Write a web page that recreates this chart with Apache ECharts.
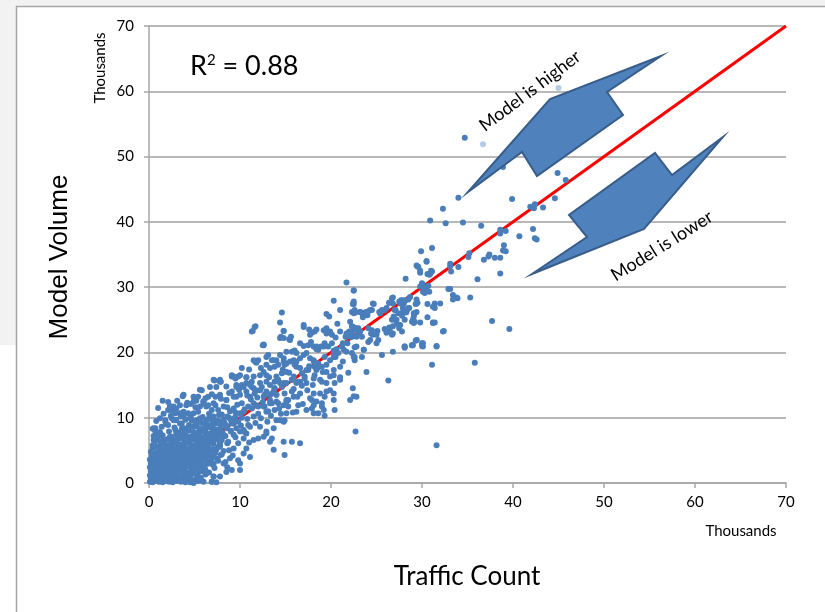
<!DOCTYPE html>
<html>
<head>
<meta charset="utf-8">
<script src="https://cdn.jsdelivr.net/npm/echarts@6/dist/echarts.min.js"></script>
<style>
html,body{margin:0;padding:0;background:#fff;}
#chart{width:825px;height:612px;}
</style>
</head>
<body>
<div id="chart"></div>
<script>
// Axis ticks (thousands)
var xTicks = [0, 10, 20, 30, 40, 50, 60, 70];
var yTicks = [0, 10, 20, 30, 40, 50, 60, 70];
var rSquared = '0.88';

// Dense core near origin [traffic count, model volume] (thousands)
var coreLow = [
[0.1,0.2],[0.4,0.1],[0.8,0.3],[1.1,0.2],[1.5,0.1],[1.9,0.3],[2.2,0.2],[2.6,0.1],[3.1,0.3],[3.5,0.2],[4.0,0.1],[4.5,0.2],[4.9,0.1],[5.4,0.3],[6.0,0.2],[6.9,0.2],
[0.2,0.7],[0.5,0.8],[0.9,0.6],[1.3,0.7],[1.6,0.9],[2.0,0.7],[2.4,0.6],[2.9,0.8],[3.3,0.7],[3.8,0.6],[4.2,0.8],[4.6,0.7],[5.2,0.6],[5.7,0.8],
[0.1,1.2],[0.4,1.3],[0.8,1.1],[1.2,1.2],[1.5,1.4],[1.9,1.2],[2.3,1.1],[2.7,1.3],[3.0,1.2],[3.5,1.1],[3.9,1.3],[4.4,1.2],[4.8,1.4],[5.3,1.1],[6.2,1.3],[7.1,1.0],
[0.2,1.8],[0.6,1.7],[0.9,1.9],[1.3,1.8],[1.7,1.6],[2.1,1.9],[2.5,1.8],[2.8,1.7],[3.2,1.9],[3.7,1.8],[4.1,1.6],[4.6,1.8],[5.0,1.9],[5.5,1.7],[5.9,1.8],[6.6,1.6],
[0.1,2.4],[0.4,2.3],[0.8,2.5],[1.1,2.4],[1.5,2.3],[1.9,2.5],[2.3,2.4],[2.6,2.2],[3.0,2.5],[3.4,2.4],[3.9,2.3],[4.3,2.5],[4.7,2.4],[5.1,2.2],[5.6,2.5],[6.1,2.4],[7.2,2.3],
[0.2,3.0],[0.6,2.9],[1.0,3.1],[1.4,3.0],[1.8,2.9],[2.1,3.1],[2.5,3.0],[2.9,2.9],[3.3,3.1],[3.7,3.0],[4.1,2.8],[4.5,3.1],[4.9,3.0],[5.4,2.9],[5.8,3.1],[6.4,3.0],[7.0,2.8]
];
var coreMid = [
[0.1,3.6],[0.5,3.5],[0.9,3.7],[1.3,3.6],[1.6,3.4],[2.0,3.7],[2.4,3.6],[2.8,3.5],[3.1,3.7],[3.6,3.6],[4.0,3.5],[4.4,3.7],[4.8,3.6],[5.2,3.4],[5.7,3.7],[6.2,3.6],[6.8,3.5],[7.5,3.7],
[0.3,4.2],[0.7,4.1],[1.1,4.3],[1.5,4.2],[1.9,4.0],[2.2,4.3],[2.6,4.2],[3.0,4.1],[3.4,4.3],[3.8,4.2],[4.2,4.0],[4.7,4.3],[5.1,4.2],[5.5,4.1],[6.0,4.3],[6.5,4.2],[7.1,4.0],[7.9,4.3],
[0.2,4.8],[0.8,4.7],[1.2,4.9],[1.6,4.8],[2.0,4.6],[2.4,4.9],[2.8,4.8],[3.2,4.7],[3.6,4.9],[4.0,4.8],[4.4,4.6],[4.9,4.9],[5.3,4.8],[5.8,4.7],[6.3,4.9],[6.7,4.8],[7.3,4.6],[8.2,4.9],
[0.4,5.4],[1.0,5.5],[1.5,5.3],[1.9,5.4],[2.3,5.6],[2.7,5.4],[3.1,5.3],[3.5,5.5],[3.9,5.4],[4.3,5.2],[4.7,5.5],[5.1,5.4],[5.6,5.3],[6.0,5.5],[6.5,5.4],[7.0,5.2],[7.6,5.5],
[0.6,6.0],[1.3,6.1],[1.8,5.9],[2.4,6.0],[2.8,6.2],[3.2,6.0],[3.6,5.9],[4.0,6.1],[4.5,6.0],[4.9,5.8],[5.3,6.1],[5.8,6.0],[6.2,5.9],[6.6,6.1],[7.1,6.0],[7.8,5.8],[8.6,6.1]
];
var coreHigh = [
[1.0,6.6],[2.0,6.7],[2.6,6.5],[3.0,6.6],[3.5,6.8],[3.9,6.6],[4.4,6.5],[4.8,6.7],[5.2,6.6],[5.7,6.4],[6.1,6.7],[6.5,6.6],[7.0,6.5],[7.4,6.7],[8.0,6.6],
[0.5,7.2],[1.5,7.3],[2.5,7.1],[3.1,7.2],[3.6,7.4],[4.1,7.2],[4.6,7.1],[5.0,7.3],[5.5,7.2],[5.9,7.0],[6.3,7.3],[6.8,7.2],[7.2,7.1],[7.7,7.3],[8.4,7.2],
[1.2,7.8],[2.2,7.9],[3.3,7.7],[3.9,7.8],[4.4,8.0],[4.9,7.8],[5.4,7.7],[5.8,7.9],[6.2,7.8],[6.7,7.6],[7.1,7.9],[7.6,7.8],[8.1,7.7],[9.0,7.9],
[0.7,8.4],[2.8,8.5],[3.6,8.3],[4.3,8.4],[4.9,8.6],[5.5,8.4],[6.0,8.3],[6.4,8.5],[6.9,8.4],[7.4,8.2],[7.9,8.5],[8.6,8.4],
[1.9,9.0],[3.4,9.1],[4.4,8.9],[5.2,9.0],[5.8,9.2],[6.3,9.0],[6.8,8.9],[7.3,9.1],[7.8,9.0],[8.5,8.8],[9.3,9.1],
[2.9,9.6],[4.0,9.7],[5.0,9.5],[5.6,9.6],[6.5,9.8],[7.0,9.6],[7.6,9.5],[8.2,9.7],[9.0,9.6],
[3.5,10.2],[4.6,10.3],[5.9,10.1],[6.9,10.2],[7.7,10.4],[8.6,10.2],[9.5,10.1]
];
var nearAxis = [
[1.0,11.5],[0.8,9.5],[0.4,8.3],[0.8,7.6],[1.0,7.1],[0.5,6.6],[0.4,5.8],[0.7,5.6],[2.3,11.8],[2.7,11.2],[3.0,11.4],[3.4,10.7],[3.8,10.4],[4.3,10.7],
[4.6,12.1],[5.1,11.6],[5.4,10.9],[6.0,12.2],[6.5,11.9],[6.9,11.2],[0.7,7.9],[1.4,8.6],[1.8,9.6],[2.1,8.9],[2.5,9.9],[3.0,9.7],[2.9,8.1],
[3.6,9.1],[3.9,8.4],[4.7,9.6],[5.1,9.0],[5.6,9.9],[6.2,9.1],[6.7,9.9],[7.0,8.8],[2.4,11.2],[3.7,13.3],[5.6,14.3],[7.2,15.7],[7.9,15.5],
[1.6,10.6],[1.2,9.9],[2.4,10.3],[1.5,12.6],[2.1,12.4],[3.1,12.6],[4.2,12.3],[5.2,12.6]
];
// Band 5k-20k
var bandLow = [
[11.65,18.6],[11.8,18.4],[14.8,18.6],[15.1,18.3],[16.0,18.1],[16.2,18.6],[17.3,17.3],[18.2,16.5],[18.4,17.3],[18.8,15.8],[19.5,18.1],[20.3,16.5],
[20.4,15.3],[19.5,14.0],[18.8,13.7],[18.1,13.7],[19.0,12.2],[19.2,11.2],[18.1,10.7],[17.3,11.2],[16.4,11.9],[16.2,10.9],[15.1,10.7],[14.8,9.4],
[14.0,9.6],[15.1,12.5],[14.2,12.2],[14.0,13.5],[13.7,14.0],[13.3,12.2],[12.6,11.7],[11.8,11.9],[11.3,11.4],[10.4,10.9],[10.0,10.7],[9.3,11.4],
[8.2,11.7],[8.5,12.7],[9.3,13.2],[10.0,13.5],[10.7,14.0],[11.5,14.5],[12.2,15.3],[12.9,15.5],[12.9,16.5],[12.2,16.5],[11.5,16.3],[10.7,16.2],
[10.0,16.5],[9.3,16.3],[9.1,16.5],[7.8,15.8],[7.4,14.7],[6.7,14.7],[5.8,14.2],[5.4,13.2],[4.9,13.2],[3.8,13.5],[6.0,12.5],[4.9,12.5],[4.1,11.9],
[3.4,11.9],[2.7,11.7],[2.1,11.2],[2.9,10.7],[3.8,10.9],[4.9,10.7],[5.6,11.7],[6.3,11.7],[7.1,12.2],[7.6,11.2],[7.1,10.2],[6.3,9.6],[5.2,9.6],
[4.5,9.9],[3.8,10.2],[0.5,8.4],[0.8,7.6],[1.6,6.6],[2.3,7.1],[3.0,7.6],[1.8,9.4],[2.7,9.6],[20.3,12.7],[14.8,6.3],[15.7,6.3],[16.6,6.1],
[14.9,4.3],[13.7,5.1],[13.3,6.3],[12.9,7.6],[12.0,6.8],[10.7,7.6],[10.0,7.9],[9.3,7.4],[9.8,6.1],[10.7,5.3],[10.4,4.5],[11.1,4.0],[9.8,3.5],
[8.9,3.8],[8.2,3.0],[8.5,1.7],[10.0,2.0],[10.0,3.0],[7.8,1.0],[7.4,0.1],[6.9,0.2],[5.4,0.6],[4.5,0.1],[4.9,0.0],[5.8,0.4],[6.3,1.5],[6.5,3.0],
[5.8,3.5],[6.7,4.3],[7.4,5.1],[7.8,6.1],[6.1,6.3],[6.3,5.3]
];
var bandMid = [
[7.1,15.8],[7.8,15.5],[5.97,12.5],[6.5,13.2],[7.3,13.2],[7.8,13.5],[8.5,12.7],[9.1,14.0],[9.6,14.7],[10.2,15.0],[10.7,15.3],[11.3,14.7],
[11.1,13.2],[11.6,13.7],[12.2,14.2],[12.7,13.5],[13.3,15.0],[13.8,14.5],[14.4,15.3],[14.9,13.7],[9.6,13.2],[10.2,12.2],[10.9,11.7],[11.5,12.2],
[12.0,11.7],[12.7,11.7],[12.9,10.9],[13.5,12.2],[14.0,12.5],[14.8,11.9],[15.3,12.7],[14.4,9.6],[14.9,9.6],[13.7,8.4],[12.9,7.9],[12.2,8.6],
[11.1,8.6],[10.4,8.1],[9.6,8.4],[9.1,9.1],[8.5,8.6],[7.8,8.1],[10.4,6.8],[11.5,6.6],[12.6,7.1],[13.5,6.8],[8.7,6.3],[9.3,5.3],[8.4,3.2],
[9.1,2.0],[7.1,3.0],[6.2,2.0],[7.1,1.0],[7.5,9.5],[8.0,10.5],[8.8,10.0],[9.5,10.8],[10.2,10.0],[9.0,8.0],[9.8,9.4],[10.8,9.8],[11.5,10.2],
[8.2,7.2],[9.5,7.0],[10.5,7.8],[11.0,6.2],[8.8,5.0],[7.8,5.6],[9.2,4.2],[8.0,4.4],[7.6,3.4],[8.6,2.4],[11.4,23.3],[11.7,24.0],[12.5,21.1],
[9.1,16.3],[9.5,16.0],[9.8,16.3],[10.7,16.2],[11.3,15.5],[9.6,15.0],[10.4,14.7],[11.1,15.0],[11.8,14.2],[12.4,14.7],[12.9,14.0],[13.3,13.5],
[13.8,14.5],[14.6,14.7],[14.2,15.8],[15.1,15.3],[15.7,14.0],[16.2,15.3],[15.9,13.2],[16.6,13.7],[17.7,13.0],[18.4,12.5],[19.0,11.7],[17.9,11.4],
[19.3,10.3],[20.4,11.2],[18.6,10.7],[15.7,15.8],[11.3,23.2],[11.6,23.9],[14.8,23.3],[14.4,22.2],[15.5,21.9],[12.6,21.1],[11.5,18.8],[12.0,18.8],
[12.9,19.3],[13.5,18.8],
[8.3,9.2],[8.9,11.0],[9.7,12.0],[10.5,11.3],[11.2,12.8],[11.9,13.1],[12.5,12.4],[13.1,11.0],[13.8,11.2],[14.5,10.6],[13.0,9.4],[12.3,9.9],
[11.7,9.2],[10.9,8.9],[10.1,8.8],[9.4,9.9],[8.6,11.6],[7.3,11.9],[6.6,10.6],[7.9,12.9],[8.8,13.8],[9.9,14.3],[10.8,13.4],[12.0,10.6],
[13.4,10.3],[14.3,11.4],[15.8,10.8],[16.9,12.1],[17.4,14.2],[16.8,14.9],[18.0,15.0],[17.6,17.9],[16.8,16.8],[15.4,16.9],[14.7,17.4],[13.2,16.2],
[12.3,17.6],[11.0,17.4],[10.2,17.6],[8.5,14.8],[6.9,13.6],[6.2,13.0]
];
// Band 12k-25k
var bandUpper = [
[20.3,27.9],[22.4,27.4],[22.6,26.2],[22.5,26.0],[14.6,26.1],[19.5,25.9],[19.8,25.5],[21.0,26.5],[14.4,24.6],[17.0,24.2],[17.0,23.9],[18.4,23.5],
[18.2,23.2],[19.2,23.4],[19.5,23.7],[19.9,23.2],[19.5,22.9],[17.6,23.5],[17.9,23.0],[17.7,22.7],[20.7,24.4],[20.1,22.7],[20.5,22.3],[21.0,23.2],
[22.1,24.7],[22.4,23.9],[22.0,23.2],[21.7,22.4],[22.2,22.4],[21.3,21.4],[21.2,20.9],[21.8,21.4],[22.8,23.7],[23.0,23.0],[14.8,23.3],[14.5,22.4],
[14.8,22.2],[15.4,22.0],[15.6,22.4],[12.6,21.2],[16.6,21.4],[17.0,21.0],[17.5,21.1],[17.8,21.6],[18.1,20.9],[18.4,20.5],[18.6,20.4],[18.9,20.9],
[19.3,21.4],[19.7,20.9],[20.1,21.4],[20.3,20.3],[20.8,19.9],[20.5,19.3],[21.3,18.6],[21.7,20.1],[22.3,19.9],[22.5,19.3],[22.6,18.8],
[15.1,20.1],[15.7,20.1],[16.0,20.3],[16.2,19.9],[14.4,19.6],[14.8,19.1],[14.0,18.8],[13.7,18.8],[13.1,19.6],[12.9,18.1],[12.6,17.0],[13.3,17.6],
[13.8,17.8],[14.2,18.1],[14.9,18.1],[15.5,18.6],[15.9,18.8],[16.6,19.1],[17.0,19.6],[17.3,19.9],[17.7,19.1],[18.1,18.6],[18.6,18.3],[19.0,17.8],
[19.5,17.0],[19.9,16.3],[19.1,17.0],[18.5,17.6],[16.6,17.6],[16.2,17.8],[15.1,17.0],[14.6,16.8],[14.0,16.3],[13.8,15.5],[14.8,15.3],[15.7,15.8],
[15.9,16.3],[16.4,15.5],[17.1,16.3],[17.3,15.3],[18.1,16.0],[19.0,15.5],[19.5,15.3],[19.9,14.2],[20.3,13.7],[21.0,16.2],[21.9,16.9],[22.4,14.5],
[22.8,13.2],[22.1,12.7],[19.3,13.2],[17.9,12.7],[18.1,11.9],[15.3,11.7],[14.0,13.5],[13.5,13.7],[13.3,12.7],[12.6,13.2],[15.1,12.7],[16.3,13.2],
[15.9,14.4]
];
// Band 20k-33k
var bandHigh = [
[21.7,30.7],[22.5,29.5],[23.2,26.2],[23.5,25.7],[23.9,26.2],[24.3,26.5],[24.6,27.5],[25.4,26.0],[25.6,26.5],[26.1,26.8],[26.7,28.3],[26.8,27.5],
[27.0,26.5],[26.4,27.6],[27.6,27.5],[27.9,28.0],[28.7,28.5],[28.5,26.8],[28.3,26.2],[29.4,27.5],[29.1,26.0],[29.8,30.1],[30.0,30.6],[30.1,29.3],
[30.5,29.6],[30.9,32.0],[29.6,33.1],[29.8,32.2],[30.5,33.9],[31.1,32.4],[31.4,27.5],[31.2,27.0],[31.2,24.5],[32.0,27.5],[32.9,29.7],[32.3,23.2],
[31.6,21.0],[31.1,18.1],[26.3,15.7],[22.5,13.3],[22.7,7.9],[31.6,5.8],
[26.8,22.9],[27.2,24.5],[27.6,24.2],[27.8,23.2],[28.1,20.9],[28.9,21.1],[29.4,21.9],[30.0,21.4],[29.1,25.5],[28.1,25.0],[26.7,22.7],[26.1,23.2],
[25.6,19.6],[25.0,21.4],[24.6,22.7],[24.1,21.6],[23.9,17.0],[23.6,20.4],[23.4,19.3],[22.6,20.8],[22.3,22.4],[21.7,22.9],[21.6,22.4],[21.4,20.4],
[20.6,20.5],[20.3,19.9],[20.3,19.3],[19.3,19.3],[19.2,20.9],[18.4,20.9],[18.1,18.8],[18.2,17.8],[17.5,17.3],[17.1,16.0],[16.6,15.5],[21.0,17.8],
[21.0,15.8],[19.9,18.8],[20.3,17.3],
[22.5,29.5],[22.5,27.8],[22.5,27.4],[22.3,26.2],[22.6,26.5],[22.7,26.1],[23.2,26.2],[23.5,25.9],[23.5,25.4],[23.7,26.1],[24.0,25.7],[24.2,26.4],
[24.5,26.5],[24.7,27.4],[25.3,26.2],[25.9,26.5],[22.3,24.0],[22.5,23.5],[23.0,23.7],
[26.8,28.4],[26.4,27.6],[27.5,27.8],[27.7,28.0],[28.2,28.0],[28.5,28.1],[28.0,27.5],[29.4,28.1],[29.3,27.4],[28.6,26.8],[28.4,26.6],[29.2,26.0],
[27.9,26.8],[27.9,26.2],[28.2,26.1],[27.4,26.0],[27.8,25.6],[27.1,26.5],[26.9,25.5],[26.7,25.0],[27.2,25.0],[26.8,24.0],[27.4,24.2],[27.5,23.7],
[26.4,23.8],[29.0,25.0],[28.9,24.7],[29.1,24.5],[30.6,25.4],[31.4,24.6],[29.8,24.6],[26.5,23.2],[26.1,23.0],[25.9,23.6],[25.1,23.3],[24.5,23.4],
[24.1,23.7],[24.4,22.9],[25.0,22.7],[24.3,21.9],[25.2,21.9],[23.2,23.2],[22.9,23.5],[22.5,23.8],[22.3,22.9],[22.8,22.4],[23.4,22.4],[23.6,20.4],
[22.8,20.9],[22.6,19.3],[26.8,20.1],[28.1,20.9],[28.9,21.1],[29.4,21.9],[30.1,21.4],[30.0,21.0],[31.6,20.9],[28.2,31.3],[30.6,32.0],[29.5,33.2],
[34.0,33.1],[33.1,33.2]
];
// Sparse upper values
var upperSparse = [
[34.7,52.9],[38.9,48.4],[44.9,47.5],[45.8,46.4],[34.0,43.7],[32.3,42.0],[39.9,43.5],[44.6,43.6],[41.9,42.3],[42.2,42.2],[42.4,42.7],[42.3,42.1],
[43.3,42.2],[30.9,40.2],[32.6,39.8],[34.5,39.9],[36.5,39.4],[38.6,38.8],[38.6,38.2],[39.2,38.6],[40.7,37.8],[42.2,38.9],[42.4,37.5],[42.6,37.3],
[39.0,36.4],[38.9,35.6],[39.2,35.5],[35.2,35.2],[35.1,34.6],[33.1,33.6],[33.2,32.4],[37.4,35.0],[37.3,34.7],[36.8,34.2],[38.0,34.5],[38.6,34.5],
[36.1,31.2],[38.6,32.1],[33.1,29.7],[33.4,28.8],[33.8,28.4],[35.3,28.4],[31.1,36.0],[29.9,35.5],[30.5,34.0],[29.4,33.3],[29.8,32.5],[31.0,32.5],
[30.8,31.9],[30.0,30.5],[30.1,30.1],[30.4,29.8],[30.7,30.2],[30.8,29.3],[30.3,29.1],[33.4,28.1],[33.9,28.3],[30.6,27.4],[29.5,27.6],[29.4,26.2],
[31.4,26.8],[31.2,24.6],[29.2,24.7],[32.4,23.3],[37.7,24.8],[39.6,23.6],[35.8,18.4],[29.0,21.1],[29.3,21.8],[30.1,20.9],[28.1,20.7]
];
// Paler points
var palePoints = [[36.7,51.9],[45.0,60.5]];
// 1:1 reference line
var lineX = [0, 70];
var lineY = [0, 70];

var mainPoints = [].concat(coreLow, coreMid, coreHigh, nearAxis, bandLow, bandMid, bandUpper, bandHigh, upperSparse);

var chart = echarts.init(document.getElementById('chart'), null, {renderer: 'canvas'});
var LBL = 'Lato, "Liberation Sans", sans-serif';
var axisGray = '#a6a6a6';

var option = {
  backgroundColor: '#ffffff',
  animation: false,
  grid: {left: 149, right: 39, top: 26, bottom: 129, containLabel: false},
  xAxis: {
    type: 'value', min: xTicks[0], max: xTicks[xTicks.length - 1], interval: 10,
    axisLine: {show: true, lineStyle: {color: axisGray, width: 1.5}},
    axisTick: {show: true, length: 5, lineStyle: {color: axisGray, width: 1.5}},
    axisLabel: {color: '#000', fontFamily: LBL, fontSize: 15, margin: 12},
    splitLine: {show: false}
  },
  yAxis: {
    type: 'value', min: yTicks[0], max: yTicks[yTicks.length - 1], interval: 10,
    axisLine: {show: true, lineStyle: {color: axisGray, width: 1.5}},
    axisTick: {show: true, length: 5, lineStyle: {color: axisGray, width: 1.5}},
    axisLabel: {color: '#000', fontFamily: LBL, fontSize: 15, margin: 15},
    splitLine: {show: true, lineStyle: {color: '#a0a0a0', width: 1.5}}
  },
  series: [
    {
      type: 'line', data: [[lineX[0], lineY[0]], [lineX[1], lineY[1]]],
      showSymbol: false, symbol: 'none', z: 1,
      lineStyle: {color: '#ff0000', width: 3}
    },
    {
      type: 'scatter', data: mainPoints, symbolSize: 6, z: 3,
      itemStyle: {color: '#4a7ebb', opacity: 1}
    },
    {
      type: 'scatter', data: palePoints, symbolSize: 6, z: 3,
      itemStyle: {color: '#a3bfe0'}
    }
  ],
  graphic: [
    {type: 'rect', z: -10, silent: true, shape: {x: 0, y: 0, width: 825, height: 6}, style: {fill: '#f2f2f2'}},
    {type: 'rect', z: -10, silent: true, shape: {x: 0, y: 0, width: 16, height: 345}, style: {fill: '#f2f2f2'}},
    {type: 'line', z: -9, silent: true, shape: {x1: 16.5, y1: 6, x2: 16.5, y2: 612}, style: {stroke: '#a6a6a6', lineWidth: 1.5}},
    {type: 'line', z: -9, silent: true, shape: {x1: 16, y1: 6.5, x2: 825, y2: 6.5}, style: {stroke: '#a6a6a6', lineWidth: 1.5}},
    {type: 'polygon', z: 100, shape: {points: [[468,192],[550,99],[661,56],[607,92],[623,115],[537,176],[522,152]]},
      style: {fill: '#4f81bd', stroke: '#385d8a', lineWidth: 2}},
    {type: 'polygon', z: 100, shape: {points: [[532,274],[644,229],[723,137],[672,175],[655,153],[569,215],[587,237]]},
      style: {fill: '#4f81bd', stroke: '#385d8a', lineWidth: 2}},
    {type: 'text', z: 101, x: 530, y: 91, rotation: 37 * Math.PI / 180,
      style: {text: 'Model is higher', fill: '#000', font: '18px ' + LBL, textAlign: 'center', textVerticalAlign: 'middle'}},
    {type: 'text', z: 101, x: 662, y: 246, rotation: 32 * Math.PI / 180,
      style: {text: 'Model is lower', fill: '#000', font: '18px ' + LBL, textAlign: 'center', textVerticalAlign: 'middle'}},
    {type: 'text', z: 101, x: 190, y: 66,
      style: {text: '{b|R}{s|2}{b| = ' + rSquared + '}', textVerticalAlign: 'middle',
        rich: {b: {fontSize: 27, fontFamily: LBL, color: '#000'},
               s: {fontSize: 15, fontFamily: LBL, color: '#000', verticalAlign: 'top', padding: [0, 0, 11, 0]}}}},
    {type: 'text', z: 101, x: 100, y: 68, rotation: Math.PI / 2,
      style: {text: 'Thousands', fill: '#000', font: '15px ' + LBL, textAlign: 'center', textVerticalAlign: 'middle'}},
    {type: 'text', z: 101, x: 741, y: 531,
      style: {text: 'Thousands', fill: '#000', font: '15px ' + LBL, textAlign: 'center', textVerticalAlign: 'middle'}},
    {type: 'text', z: 101, x: 60, y: 257, rotation: Math.PI / 2,
      style: {text: 'Model Volume', fill: '#000', font: '26px "Liberation Sans", sans-serif', textAlign: 'center', textVerticalAlign: 'middle'}},
    {type: 'text', z: 101, x: 467, y: 577,
      style: {text: 'Traffic Count', fill: '#000', font: '26px ' + LBL, textAlign: 'center', textVerticalAlign: 'middle'}}
  ]
};
chart.setOption(option);
</script>
</body>
</html>
